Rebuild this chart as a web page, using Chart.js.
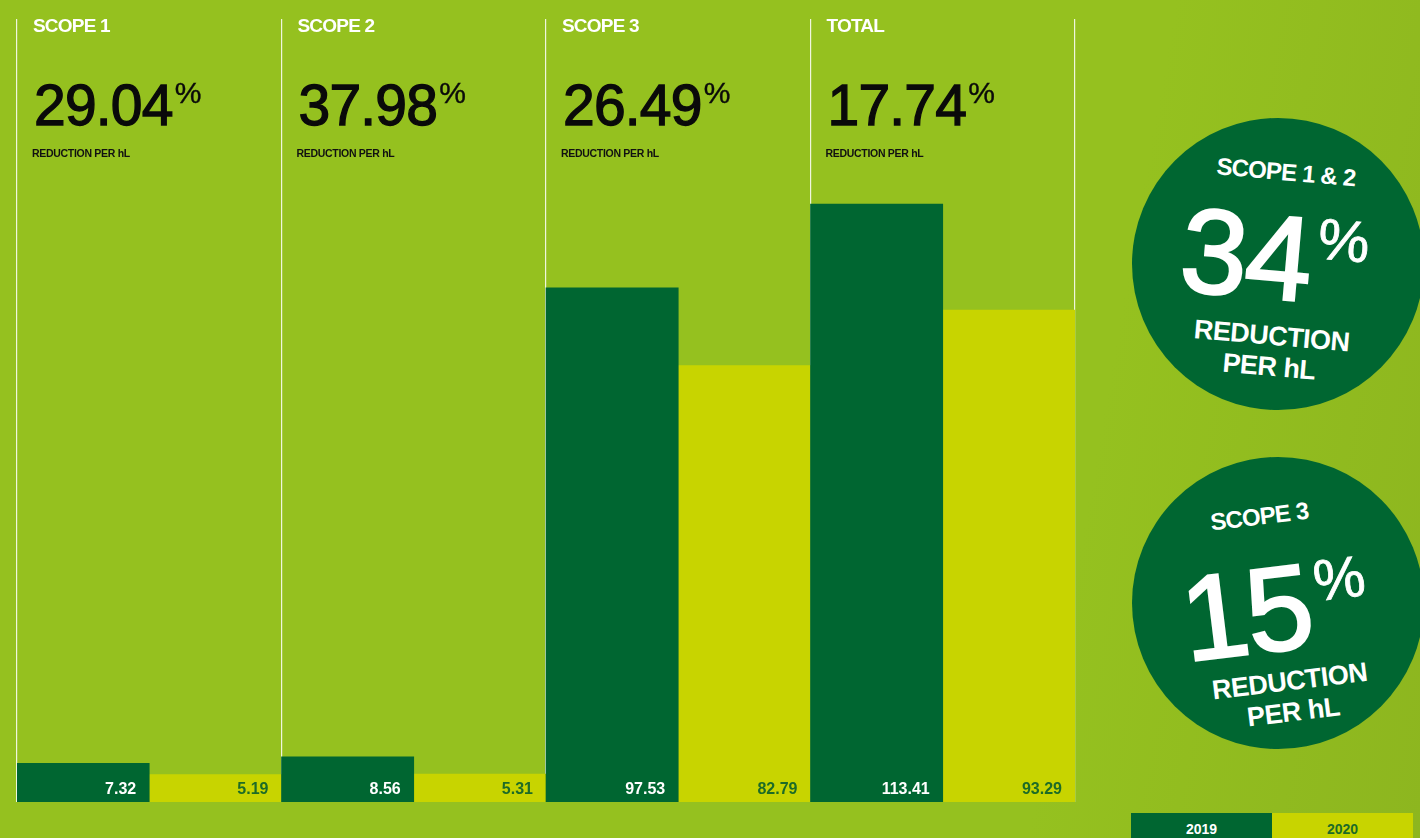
<!DOCTYPE html>
<html>
<head>
<meta charset="utf-8">
<script src="https://cdn.jsdelivr.net/npm/chart.js@4/dist/chart.umd.min.js"></script>
<style>
  html, body { margin: 0; padding: 0; }
  body {
    width: 1420px; height: 838px; overflow: hidden; position: relative;
    background: linear-gradient(100deg, #95c11f 0%, #95c11f 75%, #8db61f 100%);
    font-family: "Liberation Sans", Arial, sans-serif;
  }
  #wrap { position: absolute; left: 0; top: 0; width: 1100px; height: 838px; }
  .head { position: absolute; }
  .head .t { position: absolute; top: 15px; color: #fff; font-weight: bold; font-size: 19px; letter-spacing: -0.8px; white-space: nowrap; }
  .head .n { position: absolute; top: 70px; color: #0a0a0a; font-size: 57px; -webkit-text-stroke: 1.3px #0a0a0a; letter-spacing: -0.8px; white-space: nowrap; line-height: 70px; }
  .head .n sup { font-size: 30px; -webkit-text-stroke: 0.4px #0a0a0a; letter-spacing: 0; position: relative; top: -22px; vertical-align: 0; margin-left: 2px; }
  .head .r { position: absolute; top: 147px; color: #111; font-weight: bold; font-size: 10.5px; letter-spacing: -0.3px; white-space: nowrap; }
  .circle { position: absolute; width: 292px; height: 292px; border-radius: 50%; background: #006631; color: #fff; font-weight: bold; }
  .circle .in { position: absolute; left: 0; top: 0; width: 292px; height: 292px; text-align: center; }
  .circle .s { position: absolute; width: 100%; font-size: 24px; letter-spacing: -0.8px; }
  .circle .big { position: absolute; width: 100%; font-size: 120px; letter-spacing: -2px; line-height: 118px; font-weight: normal; -webkit-text-stroke: 2.5px #fff; }
  .circle .big sup { font-size: 58px; -webkit-text-stroke: 0.8px #fff; vertical-align: 0; position: relative; top: -44px; letter-spacing: 0; margin-left: 6px; }
  .circle .rd { position: absolute; width: 100%; font-size: 27px; line-height: 31px; letter-spacing: -0.5px; }
  .leg { position: absolute; top: 813px; width: 141px; height: 30px; font-weight: bold; font-size: 14px; text-align: center; line-height: 32px; }
</style>
</head>
<body>
<div id="wrap"><canvas id="chart"></canvas></div>
<div id="heads"></div>

<div class="circle" style="left:1132px; top:118px;">
  <div class="in" style="transform: rotate(5deg);">
    <div class="s" style="top:40px;">SCOPE 1 &amp; 2</div>
    <div class="big" style="top:80px; left:-4px;">34<sup>%</sup></div>
    <div class="rd" style="top:203px;">REDUCTION<br>PER hL</div>
  </div>
</div>
<div class="circle" style="left:1132px; top:457px;">
  <div class="in" style="transform: rotate(-7deg);">
    <div class="s" style="top:44px; left:-8px;">SCOPE 3</div>
    <div class="big" style="top:92px; left:-4px;">15<sup>%</sup></div>
    <div class="rd" style="top:210px; left:2px;">REDUCTION<br>PER hL</div>
  </div>
</div>

<div class="leg" style="left:1131px; background:#006631; color:#fff;">2019</div>
<div class="leg" style="left:1272px; background:#c8d400; color:#1d6b27;">2020</div>

<script>
var categories = ["SCOPE 1", "SCOPE 2", "SCOPE 3", "TOTAL"];
var reductions = ["29.04", "37.98", "26.49", "17.74"];
var values2019 = [7.32, 8.56, 97.53, 113.41];
var values2020 = [5.19, 5.31, 82.79, 93.29];

// writes the value at the bottom right of every bar
var barValues = {
  id: "barValues",
  afterDatasetsDraw: function (chart) {
    var ctx = chart.ctx;
    ctx.save();
    ctx.font = "bold 16px 'Liberation Sans', Arial, sans-serif";
    ctx.textAlign = "right";
    ctx.textBaseline = "alphabetic";
    chart.data.datasets.forEach(function (ds, i) {
      ctx.fillStyle = i === 0 ? "#ffffff" : "#1d6b27";
      chart.getDatasetMeta(i).data.forEach(function (bar, j) {
        ctx.fillText(ds.data[j].toFixed(2), bar.x + bar.width / 2 - 13, bar.base - 8);
      });
    });
    ctx.restore();
  }
};

var ctx = document.getElementById("chart").getContext("2d");
var chart = new Chart(ctx, {
  type: "bar",
  data: {
    labels: categories,
    datasets: [
      { label: "2019", data: values2019, backgroundColor: "#006631", barPercentage: 1, categoryPercentage: 1 },
      { label: "2020", data: values2020, backgroundColor: "#c8d400", barPercentage: 1, categoryPercentage: 1 }
    ]
  },
  options: {
    animation: false,
    responsive: true,
    maintainAspectRatio: false,
    layout: { padding: { left: 17, right: 25, top: 19, bottom: 36 } },
    plugins: { legend: { display: false }, tooltip: { enabled: false } },
    scales: {
      x: {
        z: 1,
        ticks: { display: false },
        border: { display: false },
        grid: { color: "rgba(255,255,255,0.85)", lineWidth: 1.2, drawTicks: false }
      },
      y: { display: false, min: 0, max: 148.5 }
    }
  },
  plugins: [barValues]
});

// category headings, placed from the x scale
var xs = chart.scales.x;
var catW = xs.width / categories.length;
var html = "";
categories.forEach(function (c, i) {
  var left = xs.getPixelForValue(i) - catW / 2;
  html += '<div class="head" style="left:' + left + 'px;top:0">' +
    '<div class="t" style="left:16px">' + c + '</div>' +
    '<div class="n" style="left:17px">' + reductions[i] + '<sup>%</sup></div>' +
    '<div class="r" style="left:15px">REDUCTION PER hL</div></div>';
});
document.getElementById("heads").innerHTML = html;
</script>
</body>
</html>
